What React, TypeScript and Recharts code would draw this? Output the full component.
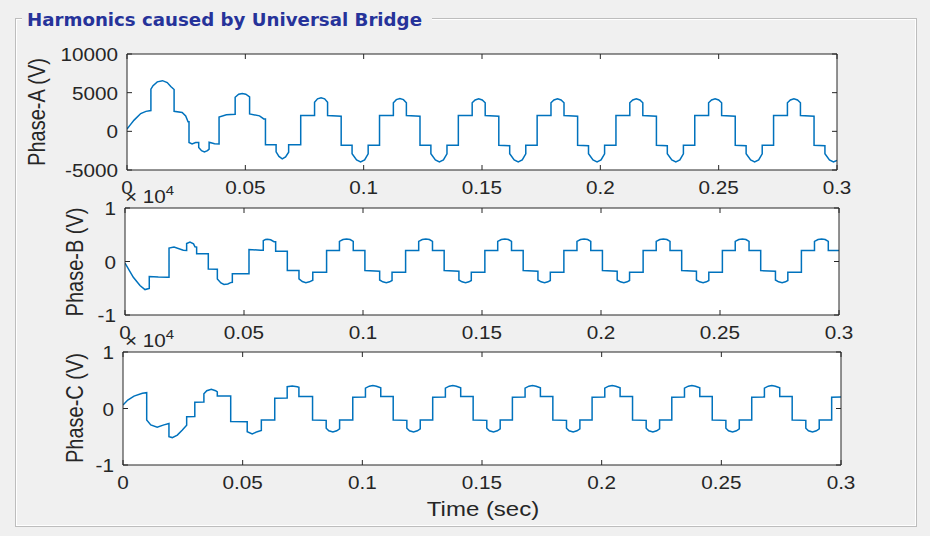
import React from 'react';
import { LineChart, Line, XAxis, YAxis, CartesianGrid } from 'recharts';

// ---------------- data ----------------
const timeTicks = [0, 0.05, 0.1, 0.15, 0.2, 0.25, 0.3];
const timeTickLabels = ['0', '0.05', '0.1', '0.15', '0.2', '0.25', '0.3'];
const phaseATicks = [-5000, 0, 5000, 10000];
const phaseATickLabels = ['-5000', '0', '5000', '10000'];
const phaseBCTicks = [-10000, 0, 10000];
const phaseBCTickLabels = ['-1', '0', '1'];

// [time (s), voltage (V)]
const phaseA: [number, number][] = [
  [0, 300], [0.0013, 800], [0.003, 1450], [0.0058, 2300], [0.008, 2580], [0.0101, 2680],
  [0.0101, 5450], [0.011, 5900], [0.0128, 6400], [0.015, 6550], [0.017, 6300], [0.0185, 5800], [0.0199, 5400],
  [0.0199, 2600], [0.0233, 2450], [0.0248, 2000], [0.0258, 1250], [0.0262, 1250],
  [0.0262, -1450], [0.0275, -1640], [0.029, -1450], [0.0303, -1450],
  [0.0303, -2100], [0.0315, -2500], [0.0327, -2650], [0.034, -2500], [0.0347, -2300],
  [0.0347, -1400], [0.037, -1600], [0.0389, -1640],
  [0.0389, 1850], [0.042, 2150], [0.0457, 2200],
  [0.0457, 4400], [0.0472, 4800], [0.0487, 4900], [0.0502, 4800], [0.0518, 4450],
  [0.0518, 2250], [0.056, 2000], [0.0578, 1600], [0.0585, 1600],
  [0.0585, -1750], [0.063, -1750],
  [0.063, -2650], [0.0642, -3250], [0.0656, -3550], [0.067, -3300], [0.0683, -2700],
  [0.0683, -1750], [0.0734, -1750],
  [0.0734, 2050], [0.07925, 2050], [0.07925, 3750], [0.0805, 4200], [0.082, 4350], [0.0835, 4200], [0.08475, 3750],
  [0.08475, 2050], [0.0905, 1950], [0.0905, -1800], [0.0951, -1800],
  [0.0951, -2900], [0.097, -3700], [0.0987, -3950], [0.1004, -3700], [0.1019, -2900], [0.1019, -1800], [0.1067, -1800],
  [0.1067, 2050], [0.11255, 2050], [0.11255, 3700], [0.1138, 4100], [0.1153, 4250], [0.1168, 4100], [0.11805, 3700],
  [0.11805, 2050], [0.1238, 1950], [0.1238, -1800], [0.1284, -1800],
  [0.1284, -2900], [0.1303, -3700], [0.132, -3950], [0.1337, -3700], [0.1352, -2900], [0.1352, -1800], [0.14, -1800],
  [0.14, 2050], [0.14585, 2050], [0.14585, 3700], [0.1471, 4050], [0.1486, 4200], [0.1501, 4050], [0.15135, 3700],
  [0.15135, 2050], [0.1571, 1950], [0.1571, -1800], [0.1617, -1850],
  [0.1617, -2900], [0.1636, -3700], [0.1653, -3950], [0.167, -3700], [0.1685, -2900], [0.1685, -1800], [0.1733, -1800],
  [0.1733, 2050], [0.17915, 2050], [0.17915, 3700], [0.1804, 4050], [0.1819, 4200], [0.1834, 4050], [0.18465, 3700],
  [0.18465, 2050], [0.1904, 1950], [0.1904, -1800], [0.195, -1850],
  [0.195, -2900], [0.1969, -3700], [0.1986, -3950], [0.2003, -3700], [0.2018, -2900], [0.2018, -1800], [0.2066, -1800],
  [0.2066, 2050], [0.21245, 2050], [0.21245, 3700], [0.2137, 4050], [0.2152, 4200], [0.2167, 4050], [0.21795, 3700],
  [0.21795, 2050], [0.2237, 1950], [0.2237, -1800], [0.2283, -1850],
  [0.2283, -2900], [0.2302, -3700], [0.2319, -3950], [0.2336, -3700], [0.2351, -2900], [0.2351, -1800], [0.2399, -1800],
  [0.2399, 2050], [0.24575, 2050], [0.24575, 3700], [0.247, 4050], [0.2485, 4200], [0.25, 4050], [0.25125, 3700],
  [0.25125, 2050], [0.257, 1950], [0.257, -1800], [0.2616, -1850],
  [0.2616, -2900], [0.2635, -3700], [0.2652, -3950], [0.2669, -3700], [0.2684, -2900], [0.2684, -1800], [0.2732, -1800],
  [0.2732, 2050], [0.27905, 2050], [0.27905, 3700], [0.2803, 4050], [0.2818, 4200], [0.2833, 4050], [0.28455, 3700],
  [0.28455, 2050], [0.2903, 1950], [0.2903, -1800], [0.2949, -1850],
  [0.2949, -2900], [0.2968, -3700], [0.2985, -3950], [0.3, -3750],
];

const phaseB: [number, number][] = [
  [0, -300], [0.0035, -2950], [0.0063, -4500], [0.0084, -5250], [0.0097, -5100], [0.0102, -5050],
  [0.0102, -2800], [0.014, -2900], [0.0178, -2950], [0.0185, -2950],
  [0.0185, 2500], [0.0206, 2700], [0.0245, 2100], [0.0259, 2050],
  [0.0259, 3350], [0.0273, 3650], [0.0288, 3300], [0.0294, 2750], [0.0301, 2700],
  [0.0301, 1450], [0.035, 1450], [0.035, -1400], [0.0388, -1450],
  [0.0388, -3250], [0.0403, -4000], [0.0416, -4300], [0.0432, -4200], [0.0444, -3950], [0.0451, -3900],
  [0.0451, -2300], [0.0521, -2300],
  [0.0521, 2250], [0.057, 2100], [0.0581, 2100],
  [0.0581, 3900], [0.059, 4100], [0.0598, 4150], [0.0612, 4050], [0.0626, 3700], [0.0633, 3700],
  [0.0633, 1900], [0.0682, 1900], [0.0682, -1700], [0.0731, -1700],
  [0.0731, -3250], [0.0745, -3750], [0.076, -3950], [0.0775, -3800], [0.0789, -3500],
  [0.0789, -2000], [0.0847, -2000],
  [0.0847, 2075], [0.0901, 2075], [0.0901, 3750], [0.0916, 4100], [0.0931, 4200], [0.0946, 4100], [0.0959, 3750],
  [0.0959, 2075], [0.1008, 2075], [0.1008, -1700], [0.107, -1800],
  [0.107, -3450], [0.1083, -3800], [0.1098, -3950], [0.1112, -3800], [0.1122, -3550], [0.1122, -2000], [0.1179, -2000],
  [0.1179, 2075], [0.1234, 2075], [0.1234, 3750], [0.1249, 4100], [0.1264, 4200], [0.1279, 4100], [0.1292, 3750],
  [0.1292, 2075], [0.1341, 2075], [0.1341, -1700], [0.1403, -1800],
  [0.1403, -3450], [0.1416, -3800], [0.1431, -3950], [0.1445, -3800], [0.1455, -3550], [0.1455, -2000], [0.1512, -2000],
  [0.1512, 2075], [0.1566, 2075], [0.1566, 3750], [0.1581, 4100], [0.1596, 4200], [0.1611, 4100], [0.1624, 3750],
  [0.1624, 2075], [0.1673, 2075], [0.1673, -1700], [0.1735, -1800],
  [0.1735, -3450], [0.1748, -3800], [0.1763, -3950], [0.1777, -3800], [0.1787, -3550], [0.1787, -2000], [0.1844, -2000],
  [0.1844, 2075], [0.1899, 2075], [0.1899, 3750], [0.1914, 4100], [0.1929, 4200], [0.1944, 4100], [0.1957, 3750],
  [0.1957, 2075], [0.2006, 2075], [0.2006, -1700], [0.2068, -1800],
  [0.2068, -3450], [0.2081, -3800], [0.2096, -3950], [0.211, -3800], [0.212, -3550], [0.212, -2000], [0.2177, -2000],
  [0.2177, 2075], [0.2232, 2075], [0.2232, 3750], [0.2247, 4100], [0.2262, 4200], [0.2277, 4100], [0.229, 3750],
  [0.229, 2075], [0.2339, 2075], [0.2339, -1700], [0.2401, -1800],
  [0.2401, -3450], [0.2414, -3800], [0.2429, -3950], [0.2443, -3800], [0.2453, -3550], [0.2453, -2000], [0.251, -2000],
  [0.251, 2075], [0.2564, 2075], [0.2564, 3750], [0.2579, 4100], [0.2594, 4200], [0.2609, 4100], [0.2622, 3750],
  [0.2622, 2075], [0.2671, 2075], [0.2671, -1700], [0.2733, -1800],
  [0.2733, -3450], [0.2746, -3800], [0.2761, -3950], [0.2775, -3800], [0.2785, -3550], [0.2785, -2000], [0.2842, -2000],
  [0.2842, 2075], [0.2897, 2075], [0.2897, 3750], [0.2912, 4100], [0.2927, 4200], [0.2942, 4100], [0.2955, 3750],
  [0.2955, 2075], [0.3, 2075],
];

const phaseC: [number, number][] = [
  [0, 600], [0.002, 1500], [0.0046, 2200], [0.0081, 2700], [0.0099, 2800],
  [0.0099, -2050], [0.0116, -2900], [0.0143, -3300], [0.0171, -2900], [0.0192, -2650],
  [0.0192, -5000], [0.0206, -5150], [0.0227, -4700], [0.0248, -3800], [0.0266, -2950],
  [0.0266, -1450], [0.03, -1400], [0.03, 1100], [0.0338, 1150],
  [0.0338, 2600], [0.035, 3150], [0.0369, 3400], [0.0387, 3150], [0.0394, 2950],
  [0.0394, 2200], [0.045, 2200], [0.045, -2300], [0.0519, -2350],
  [0.0519, -4100], [0.054, -4500], [0.0561, -4100], [0.0578, -3900],
  [0.0578, -2050], [0.0634, -2050], [0.0634, 1800], [0.0686, 1850],
  [0.0686, 3850], [0.0707, 3980], [0.0728, 3850], [0.0735, 3750], [0.0735, 2120],
  [0.0792, 2120], [0.0792, -2050], [0.0849, -2100], [0.0849, -3500], [0.086, -3950], [0.0877, -4150], [0.0893, -3950], [0.0905, -3600],
  [0.0905, -2050], [0.096, -2050], [0.096, 2000], [0.1013, 2050], [0.1013, 3600], [0.1029, 3950], [0.1044, 4050], [0.1059, 3950], [0.1077, 3650],
  [0.1077, 2120], [0.1129, 2120], [0.1129, -2050], [0.1186, -2100], [0.1186, -3500], [0.1197, -3950], [0.1214, -4150], [0.123, -3950], [0.1242, -3600],
  [0.1242, -2050], [0.1294, -2050], [0.1294, 2000], [0.1347, 2050], [0.1347, 3600], [0.1363, 3950], [0.1378, 4050], [0.1393, 3950], [0.1411, 3650],
  [0.1411, 2120], [0.1463, 2120], [0.1463, -2050], [0.152, -2100], [0.152, -3500], [0.1531, -3950], [0.1548, -4150], [0.1564, -3950], [0.1576, -3600],
  [0.1576, -2050], [0.1627, -2050], [0.1627, 2000], [0.168, 2050], [0.168, 3600], [0.1696, 3950], [0.1711, 4050], [0.1726, 3950], [0.1744, 3650],
  [0.1744, 2120], [0.1796, 2120], [0.1796, -2050], [0.1853, -2100], [0.1853, -3500], [0.1864, -3950], [0.1881, -4150], [0.1897, -3950], [0.1909, -3600],
  [0.1909, -2050], [0.196, -2050], [0.196, 2000], [0.2013, 2050], [0.2013, 3600], [0.2029, 3950], [0.2044, 4050], [0.2059, 3950], [0.2077, 3650],
  [0.2077, 2120], [0.2129, 2120], [0.2129, -2050], [0.2186, -2100], [0.2186, -3500], [0.2197, -3950], [0.2214, -4150], [0.223, -3950], [0.2242, -3600],
  [0.2242, -2050], [0.2293, -2050], [0.2293, 2000], [0.2346, 2050], [0.2346, 3600], [0.2362, 3950], [0.2377, 4050], [0.2392, 3950], [0.241, 3650],
  [0.241, 2120], [0.2462, 2120], [0.2462, -2050], [0.2519, -2100], [0.2519, -3500], [0.253, -3950], [0.2547, -4150], [0.2563, -3950], [0.2575, -3600],
  [0.2575, -2050], [0.2627, -2050], [0.2627, 2000], [0.268, 2050], [0.268, 3600], [0.2696, 3950], [0.2711, 4050], [0.2726, 3950], [0.2744, 3650],
  [0.2744, 2120], [0.2796, 2120], [0.2796, -2050], [0.2853, -2100], [0.2853, -3500], [0.2864, -3950], [0.2881, -4150], [0.2897, -3950], [0.2909, -3600],
  [0.2909, -2050], [0.2961, -2050], [0.2961, 2000], [0.3, 2050],
];

// ---------------- styling ----------------
const AXIS = '#262626';
const LINE = '#0072BD';
const BG = '#f0f0f0';
const FONT = "'Liberation Sans', Arial, Helvetica, sans-serif";
const FS = 18; // tick labels
const LFS = 20; // axis labels
const SX = 1.15; // horizontal stretch of the reference's text
const LSX = 1.2;
const TL = 5;

const toRows = (arr: [number, number][]) => arr.map(([t, v]) => ({ t, v }));

function labelFor(ticks: number[], labels: string[], v: number) {
  const i = ticks.findIndex((k) => Math.abs(k - v) < 1e-9);
  return i >= 0 ? labels[i] : '';
}

function SText(props: {
  x: number;
  y: number;
  anchor?: 'start' | 'middle' | 'end';
  rotate?: number;
  size?: number;
  sx?: number;
  children: React.ReactNode;
}) {
  const { x, y, anchor = 'start', rotate = 0, size = FS, sx = SX, children } = props;
  return (
    <text
      transform={`translate(${x} ${y}) scale(${sx} 1)${rotate ? ` rotate(${rotate})` : ''}`}
      textAnchor={anchor}
      fontFamily={FONT}
      fontSize={size}
      fill={AXIS}
    >
      {children}
    </text>
  );
}

const BottomTick = (props: any) => {
  const { x, y, payload } = props;
  return (
    <g>
      <line x1={x} x2={x} y1={y} y2={y - TL} stroke={AXIS} strokeWidth={1} />
      <SText x={x} y={y + 24} anchor="middle">
        {labelFor(timeTicks, timeTickLabels, payload.value)}
      </SText>
    </g>
  );
};

const TopTick = (props: any) => {
  const { x, y } = props;
  return <line x1={x} x2={x} y1={y} y2={y + TL} stroke={AXIS} strokeWidth={1} />;
};

const LeftTick = (ticks: number[], labels: string[]) => (props: any) => {
  const { x, y, payload } = props;
  return (
    <g>
      <line x1={x} x2={x + TL} y1={y} y2={y} stroke={AXIS} strokeWidth={1} />
      <SText x={x - 9} y={y + 7} anchor="end">
        {labelFor(ticks, labels, payload.value)}
      </SText>
    </g>
  );
};

const RightTick = (props: any) => {
  const { x, y } = props;
  return <line x1={x} x2={x - TL} y1={y} y2={y} stroke={AXIS} strokeWidth={1} />;
};

type PanelProps = {
  data: [number, number][];
  top: number;
  height: number;
  plotLeft: number;
  plotRight: number;
  plotTop: number;
  plotBottom: number;
  yDomain: [number, number];
  yTicks: number[];
  yLabels: string[];
};

// axes are 1px thick so that Recharts renders them; margins compensate
function Panel(p: PanelProps) {
  return (
    <div style={{ position: 'absolute', left: 0, top: p.top, width: 930, height: p.height }}>
      <LineChart
        width={930}
        height={p.height}
        data={toRows(p.data)}
        margin={{
          top: p.plotTop - p.top - 1,
          bottom: p.top + p.height - p.plotBottom - 1,
          left: p.plotLeft - 1,
          right: 930 - p.plotRight - 1,
        }}
      >
        <CartesianGrid fill="#ffffff" stroke="none" horizontal={false} vertical={false} />
        <XAxis
          dataKey="t"
          type="number"
          domain={[0, 0.3]}
          ticks={timeTicks}
          interval={0}
          height={1}
          tickSize={0}
          tickMargin={0}
          allowDataOverflow
          axisLine={{ stroke: AXIS, strokeWidth: 1 }}
          tickLine={false}
          tick={BottomTick}
        />
        <XAxis
          xAxisId="top"
          orientation="top"
          dataKey="t"
          type="number"
          domain={[0, 0.3]}
          ticks={timeTicks}
          interval={0}
          height={1}
          tickSize={0}
          tickMargin={0}
          allowDataOverflow
          axisLine={{ stroke: AXIS, strokeWidth: 1 }}
          tickLine={false}
          tick={TopTick}
        />
        <YAxis
          type="number"
          domain={p.yDomain}
          ticks={p.yTicks}
          interval={0}
          width={1}
          tickSize={0}
          tickMargin={0}
          allowDataOverflow
          axisLine={{ stroke: AXIS, strokeWidth: 1 }}
          tickLine={false}
          tick={LeftTick(p.yTicks, p.yLabels)}
        />
        <YAxis
          yAxisId="right"
          orientation="right"
          type="number"
          domain={p.yDomain}
          ticks={p.yTicks}
          interval={0}
          width={1}
          tickSize={0}
          tickMargin={0}
          allowDataOverflow
          axisLine={{ stroke: AXIS, strokeWidth: 1 }}
          tickLine={false}
          tick={RightTick}
        />
        <Line
          type="linear"
          dataKey="v"
          stroke={LINE}
          strokeWidth={1.5}
          dot={false}
          activeDot={false}
          isAnimationActive={false}
        />
      </LineChart>
    </div>
  );
}

export default function App() {
  return (
    <div
      style={{
        position: 'absolute',
        left: 0,
        top: 0,
        width: 930,
        height: 536,
        background: BG,
        overflow: 'hidden',
      }}
    >
      <svg width={930} height={536} style={{ position: 'absolute', left: 0, top: 0 }}>
        <rect x={15.5} y={18.5} width={901} height={508} fill="none" stroke="#bdbdbd" />
        <rect x={16.5} y={19.5} width={899} height={506} fill="none" stroke="#ffffff" />
        <rect x={22} y={6} width={410} height={24} fill={BG} />
      </svg>
      <Panel
        data={phaseA}
        top={0}
        height={200}
        plotLeft={127}
        plotRight={837}
        plotTop={54}
        plotBottom={170}
        yDomain={[-5000, 10000]}
        yTicks={phaseATicks}
        yLabels={phaseATickLabels}
      />
      <Panel
        data={phaseB}
        top={195}
        height={150}
        plotLeft={125}
        plotRight={839}
        plotTop={208}
        plotBottom={315}
        yDomain={[-10000, 10000]}
        yTicks={phaseBCTicks}
        yLabels={phaseBCTickLabels}
      />
      <Panel
        data={phaseC}
        top={340}
        height={196}
        plotLeft={123}
        plotRight={841}
        plotTop={352}
        plotBottom={465}
        yDomain={[-10000, 10000]}
        yTicks={phaseBCTicks}
        yLabels={phaseBCTickLabels}
      />
      <svg
        width={930}
        height={536}
        style={{ position: 'absolute', left: 0, top: 0, pointerEvents: 'none' }}
      >
        <text
          x={27}
          y={26}
          fontFamily="'DejaVu Sans', Verdana, sans-serif"
          fontWeight="bold"
          fontSize={18.2}
          fill="#26339a"
        >
          Harmonics caused by Universal Bridge
        </text>
        <SText x={45} y={112} anchor="middle" rotate={-90} size={LFS} sx={LSX}>
          Phase-A (V)
        </SText>
        <SText x={83} y={262} anchor="middle" rotate={-90} size={LFS} sx={LSX}>
          Phase-B (V)
        </SText>
        <SText x={83} y={408} anchor="middle" rotate={-90} size={LFS} sx={LSX}>
          Phase-C (V)
        </SText>
        <SText x={125} y={203}>
          × 10
          <tspan fontSize={13} dy={-8}>4</tspan>
        </SText>
        <SText x={125} y={347}>
          × 10
          <tspan fontSize={13} dy={-8}>4</tspan>
        </SText>
        <SText x={483} y={516} anchor="middle" size={LFS} sx={LSX}>
          Time (sec)
        </SText>
      </svg>
    </div>
  );
}
